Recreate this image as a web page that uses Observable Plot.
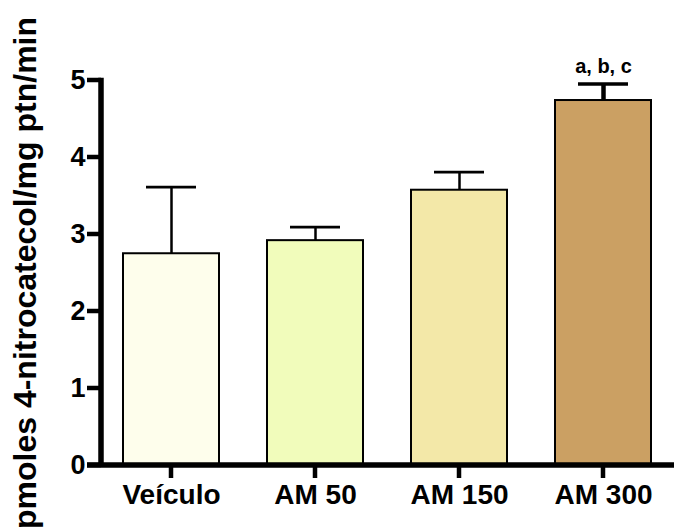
<!DOCTYPE html>
<html>
<head>
<meta charset="utf-8">
<script src="https://cdn.jsdelivr.net/npm/d3@7"></script>
<script src="https://cdn.jsdelivr.net/npm/@observablehq/plot@0.6"></script>
<style>
  html, body { margin: 0; padding: 0; background: #fff; }
  #chart svg { font-family: "Liberation Sans", Arial, sans-serif; font-weight: bold; }
  #chart g[aria-label="y-axis label"] text { font-size: 32px; font-weight: bold; }
  #chart g[aria-label="text"] text { white-space: pre; }
</style>
</head>
<body>
<div id="chart"></div>
<script>
const groups = ["Veículo", "AM 50", "AM 150", "AM 300"];
const means = [2.75, 2.92, 3.575, 4.74];
const errTops = [3.615, 3.095, 3.81, 4.955];
const annotations = ["", "", "", "a, b, c"];
const colors = ["#FEFEEC", "#F1FCBB", "#F3E8A8", "#CBA063"];
const yTicks = [0, 1, 2, 3, 4, 5];
const yLabel = "pmoles 4-nitrocatecol/mg ptn/min";

const data = groups.map((g, i) => ({group: g, mean: means[i], err: errTops[i], note: annotations[i]}));

// axis lines and ticks, positioned through the chart's own scales
function axisLines(index, scales, values, dimensions) {
  const {marginLeft, marginRight, width} = dimensions;
  const y = scales.y, x = scales.x;
  const bw = typeof x.bandwidth === "function" ? x.bandwidth() : 0;
  const g = d3.create("svg:g").attr("fill", "#000").attr("stroke", "none");
  const tk = 4.5, ax = 5.5;
  for (const t of yTicks) {
    g.append("rect").attr("x", marginLeft - 14).attr("width", 14)
      .attr("y", y(t) - tk / 2).attr("height", tk);
  }
  for (const c of groups) {
    const cx = x(c) + bw / 2;
    g.append("rect").attr("x", cx - tk / 2).attr("width", tk)
      .attr("y", y(0)).attr("height", 13);
  }
  g.append("rect").attr("x", marginLeft - ax / 2).attr("width", ax)
    .attr("y", y(yTicks[yTicks.length - 1]) - tk / 2).attr("height", y(0) - y(yTicks[yTicks.length - 1]) + tk / 2);
  g.append("rect").attr("x", marginLeft - 14).attr("width", width - marginRight - marginLeft + 14)
    .attr("y", y(0) - ax / 2).attr("height", ax);
  return g.node();
}

const chart = Plot.plot({
  width: 674,
  height: 530,
  marginLeft: 101,
  marginRight: 0,
  marginTop: 80,
  marginBottom: 65,
  style: {fontFamily: '"Liberation Sans", Arial, sans-serif', fontWeight: "bold", color: "#000", background: "#fff"},
  x: {domain: groups, paddingInner: 0.333, paddingOuter: 0.156, label: null},
  y: {domain: [0, 5]},
  color: {domain: groups, range: colors},
  marks: [
    Plot.barY(data, {x: "group", y: "mean", fill: "group", stroke: "#000", strokeWidth: 2}),
    Plot.ruleX(data, {x: "group", y1: "mean", y2: "err", stroke: "#000", strokeWidth: d => d.group === "AM 300" ? 4.5 : 2.5}),
    Plot.tickY(data, {x: "group", y: "err", stroke: "#000", strokeWidth: d => d.group === "AM 300" ? 3.5 : 2.7, insetLeft: 23, insetRight: 23}),
    Plot.text(data, {x: "group", y: "err", text: "note", dy: -11, lineAnchor: "bottom", fontSize: 20, fontWeight: "bold", fill: "#000"}),
    Plot.axisY({ticks: yTicks, tickFormat: d3.format("d"), tickSize: 0, tickPadding: 16, fontSize: 27, fontWeight: "bold",
      label: yLabel, labelAnchor: "center", labelArrow: "none", labelOffset: 88}),
    Plot.axisX({tickSize: 0, tickPadding: 19, fontSize: 28, fontWeight: "bold", label: null}),
    axisLines
  ]
});
document.getElementById("chart").appendChild(chart);
</script>
</body>
</html>
